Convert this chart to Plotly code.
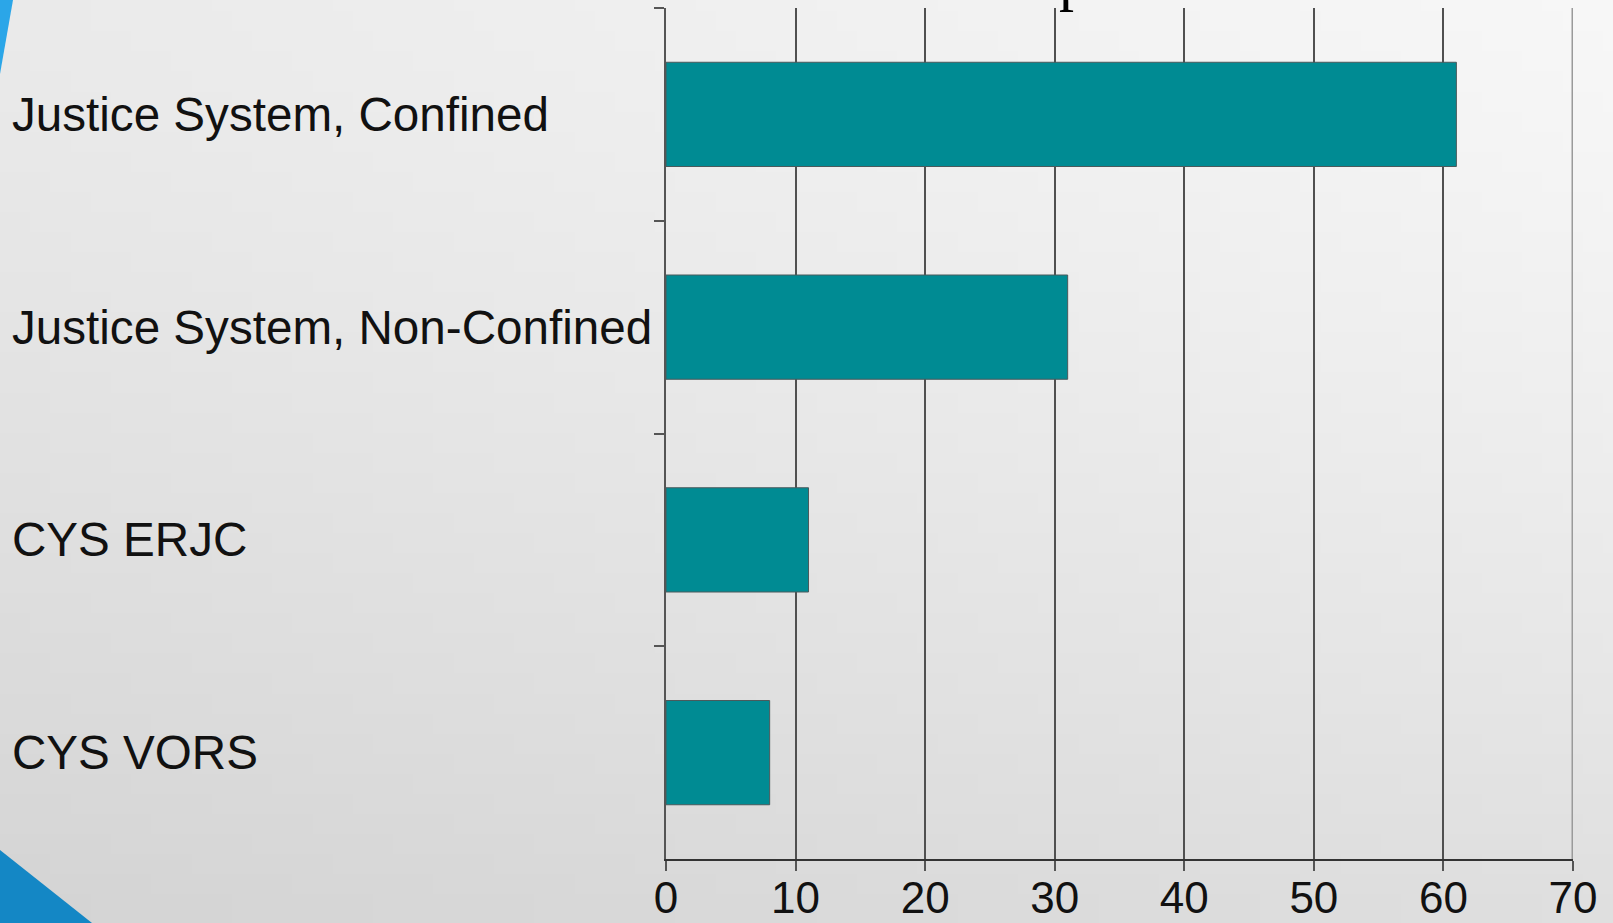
import base64
import struct
import zlib

import plotly.graph_objects as go

# ---- data ----
categories = ["Justice System, Confined", "Justice System, Non-Confined", "CYS ERJC", "CYS VORS"]
values = [61, 31, 11, 8]
x_ticks = [0, 10, 20, 30, 40, 50, 60, 70]

# ---- layout geometry ----
W, H = 1613, 923
L, R, T, B = 666, 40, 8, 64
PW, PH = W - L - R, H - T - B


def px(xp):
    return (xp - L) / PW


def py(yp):
    return 1 - (yp - T) / PH


# ---- background gradient image (style only) ----
def make_png(w, h):
    tl, tr, bl, br = 234, 247, 212, 223
    raw = b""
    for j in range(h):
        v = j / (h - 1)
        row = bytearray([0])
        for i in range(w):
            u = i / (w - 1)
            top = tl + (tr - tl) * u
            bot = bl + (br - bl) * u
            vv = v ** 1.3
            c = int(round(top + (bot - top) * vv))
            row += bytes([c, c, c])
        raw += bytes(row)

    def chunk(t, d):
        c = struct.pack(">I", len(d)) + t + d
        return c + struct.pack(">I", zlib.crc32(t + d) & 0xFFFFFFFF)

    png = b"\x89PNG\r\n\x1a\n"
    png += chunk(b"IHDR", struct.pack(">IIBBBBB", w, h, 8, 2, 0, 0, 0))
    png += chunk(b"IDAT", zlib.compress(raw, 9))
    png += chunk(b"IEND", b"")
    return "data:image/png;base64," + base64.b64encode(png).decode()


fig = go.Figure()
fig.add_trace(go.Bar(
    x=values,
    y=categories,
    orientation="h",
    marker=dict(color="#008b93", line=dict(color="#4a5a5c", width=1)),
    hoverinfo="x+y",
))

annotations = []
for c in categories:
    annotations.append(dict(
        x=px(10), xref="paper", y=c, yref="y",
        text=c, showarrow=False, xanchor="left", yanchor="middle",
        font=dict(family="Liberation Sans", size=47.6, color="#111111"),
    ))
# cut-off title glyph at the very top (as in the reference)
annotations.append(dict(
    x=px(1074), xref="paper", y=py(14), yref="paper",
    text="p", showarrow=False, xanchor="center", yanchor="bottom",
    font=dict(family="Liberation Serif", size=60, color="#000000"),
))

shapes = [
    # lighter right-edge grid line at 70
    dict(type="line", xref="x", yref="paper", x0=70, x1=70, y0=0, y1=1,
         line=dict(color="#9a9a9a", width=3), layer="above"),
    # decorative blue shapes
    dict(type="path", xref="paper", yref="paper",
         path=f"M {px(0)},{py(0)} L {px(13)},{py(0)} L {px(0)},{py(74)} Z",
         fillcolor="#2ba6e8", line=dict(width=0)),
    dict(type="path", xref="paper", yref="paper",
         path=f"M {px(0)},{py(850)} L {px(92)},{py(923)} L {px(0)},{py(923)} Z",
         fillcolor="#1487c5", line=dict(width=0)),
]

fig.update_layout(
    width=W, height=H,
    margin=dict(l=L, r=R, t=T, b=B, pad=0, autoexpand=False),
    paper_bgcolor="#dcdcdc",
    plot_bgcolor="rgba(0,0,0,0)",
    showlegend=False,
    bargap=0.51,
    annotations=annotations,
    shapes=shapes,
    images=[dict(
        source=make_png(80, 46), xref="paper", yref="paper",
        x=px(0), y=py(0), sizex=W / PW, sizey=H / PH,
        xanchor="left", yanchor="top", sizing="stretch", layer="below",
    )],
    xaxis=dict(
        range=[0, 70], tickvals=x_ticks, ticktext=[str(t) for t in x_ticks],
        showgrid=True, gridcolor="#505050", gridwidth=2,
        zeroline=False, showline=True, linecolor="#333333", linewidth=2,
        ticks="outside", ticklen=10, tickwidth=2, tickcolor="#555555",
        tickfont=dict(family="Liberation Sans", size=44, color="#111111"),
        ticklabelstandoff=-11, automargin=False,
        fixedrange=True,
    ),
    yaxis=dict(
        autorange="reversed", showticklabels=False, showgrid=False,
        zeroline=False, showline=True, linecolor="#555555", linewidth=2,
        ticks="outside", tickson="boundaries", ticklen=10, tickwidth=2,
        tickcolor="#555555", automargin=False, fixedrange=True,
    ),
)

fig.write_html(
    "out.html",
    config={"displayModeBar": False},
    post_script="document.body.style.margin='0';document.body.style.overflow='hidden';",
)
